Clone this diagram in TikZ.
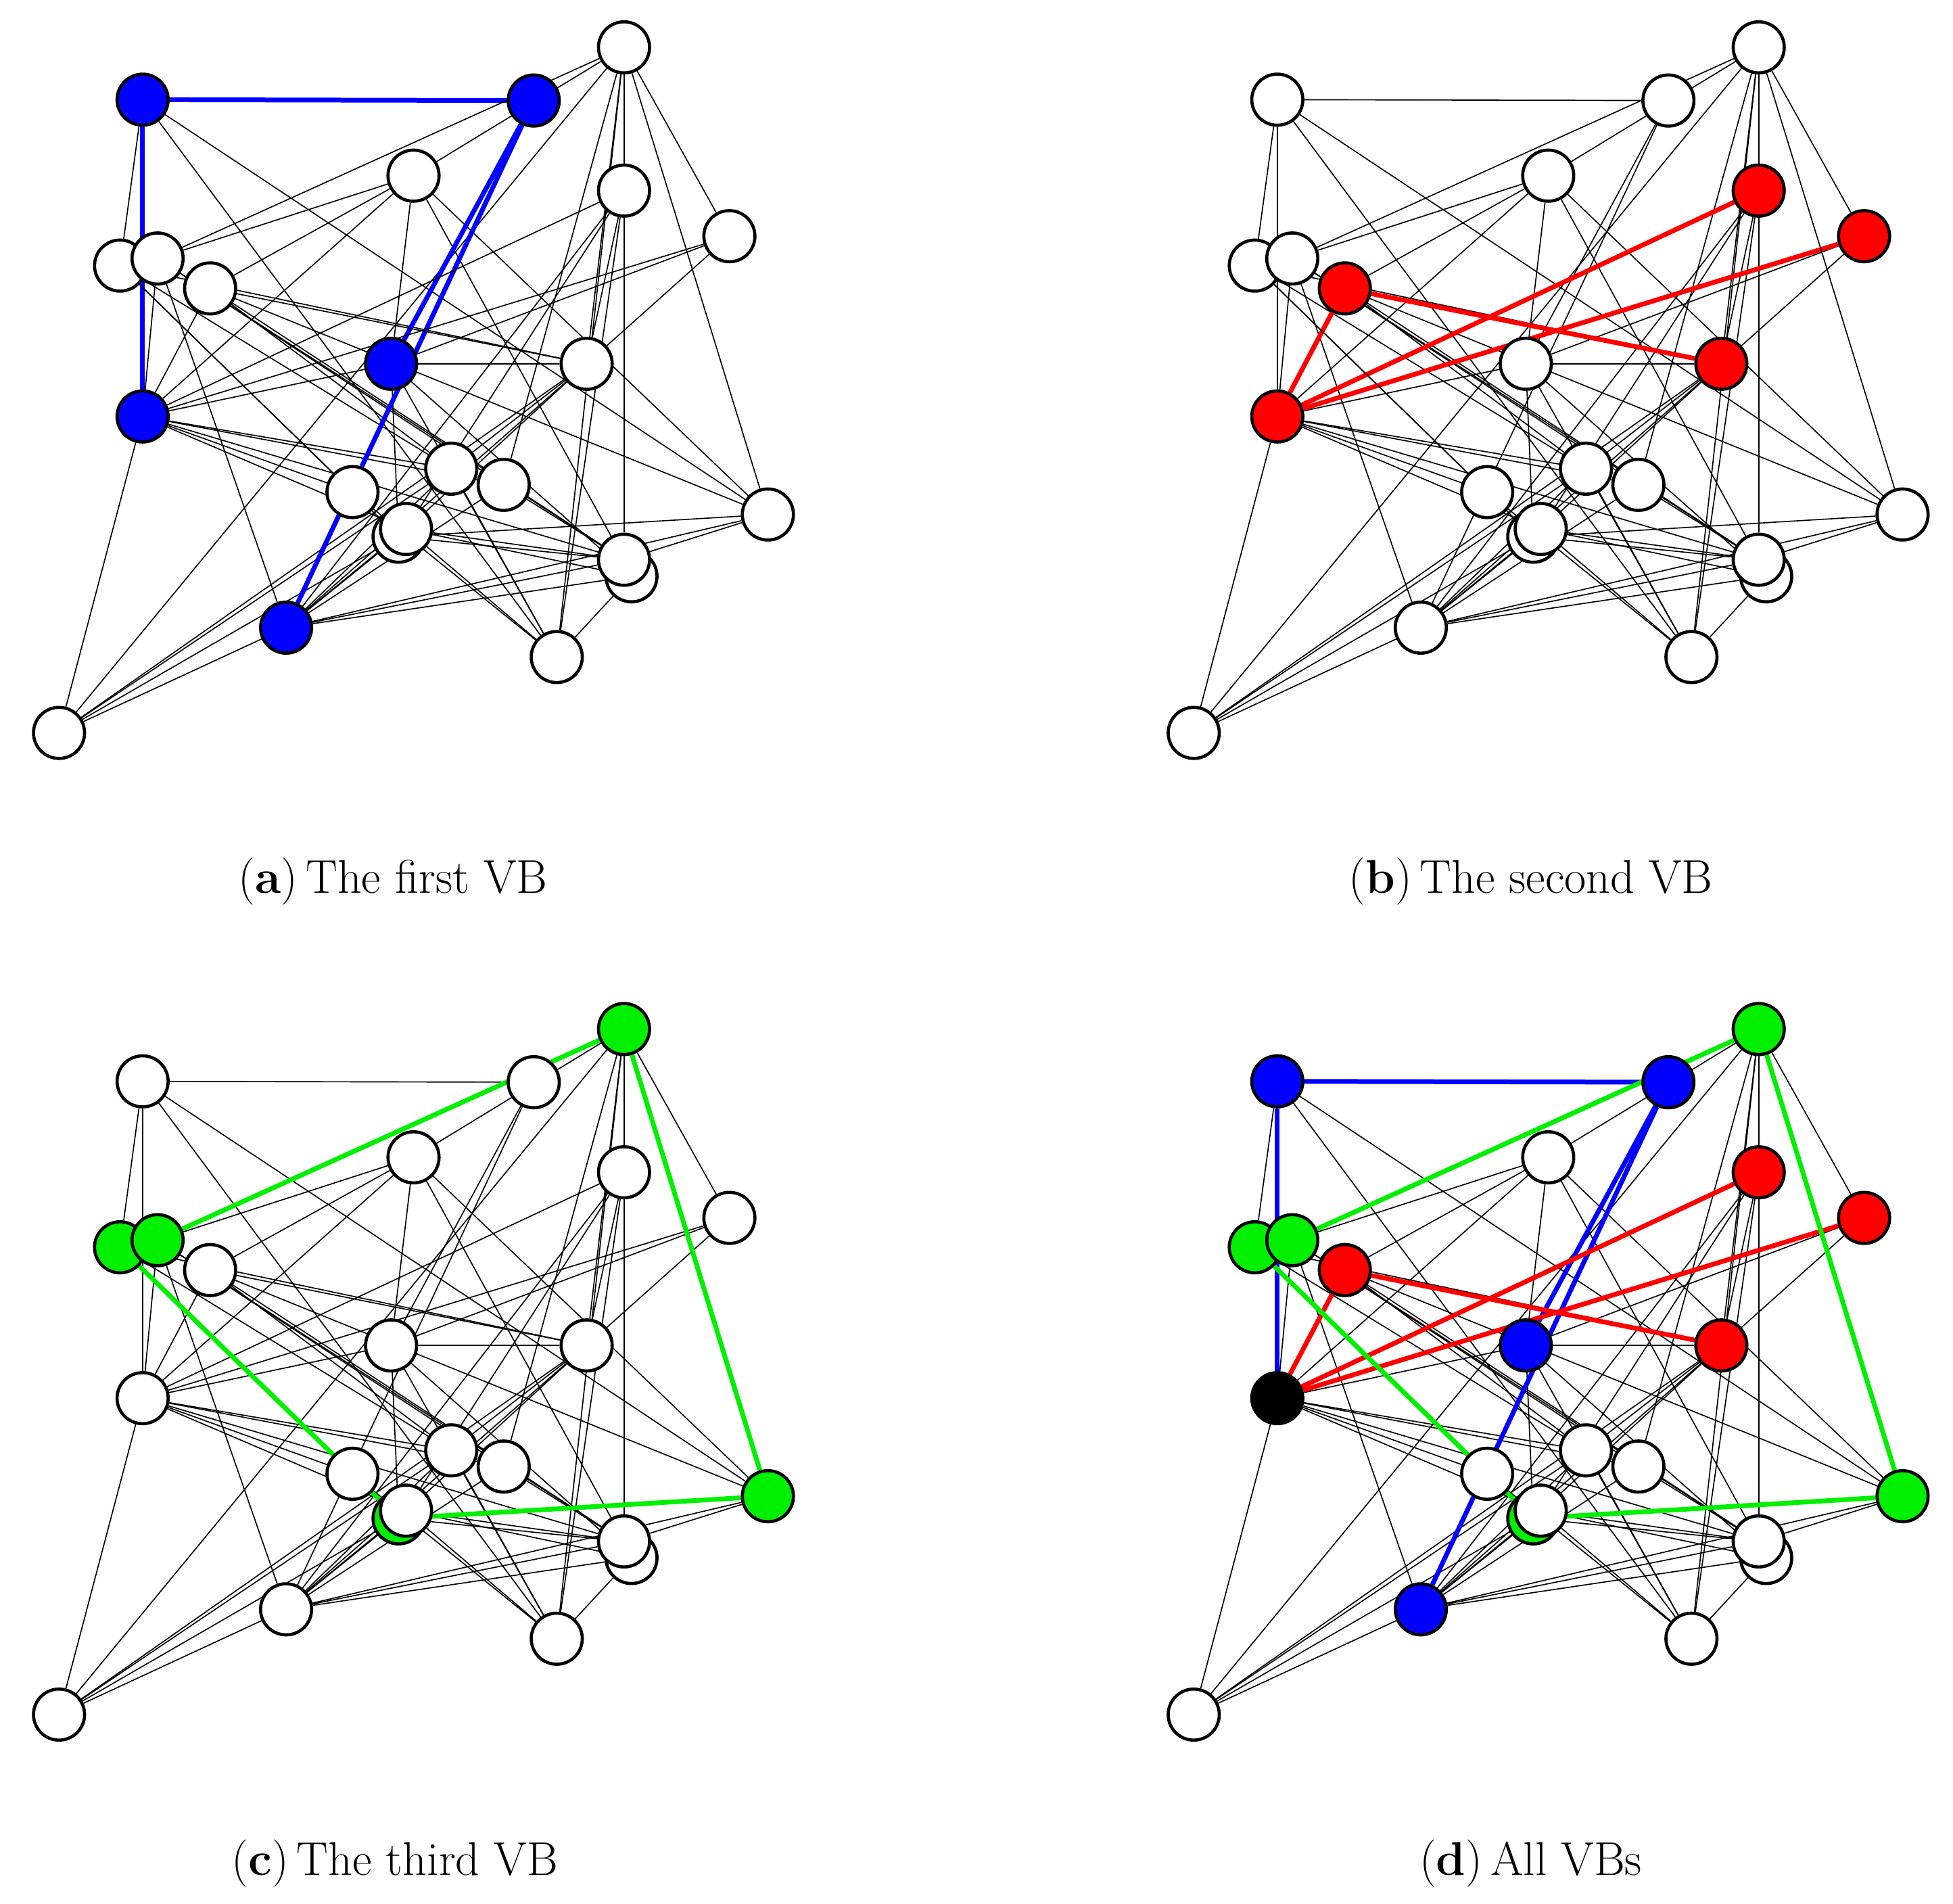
\documentclass[tikz,border=0pt]{standalone}
\usetikzlibrary{calc}
\definecolor{vblue}{RGB}{0,0,255}
\definecolor{vred}{RGB}{255,0,0}
\definecolor{vgreen}{RGB}{0,240,0}
\pgfdeclarelayer{edgesk}
\pgfdeclarelayer{edgesc}
\pgfsetlayers{edgesk,edgesc,main}
\tikzset{
 vtx/.style={circle,draw=black,line width=2.5pt,minimum size=41pt,inner sep=0pt,fill=white},
 kedge/.style={line width=0.9pt,black},
 bedge/.style={line width=3.8pt,vblue},
 redge/.style={line width=3.8pt,vred},
 gedge/.style={line width=3.8pt,vgreen},
 capt/.style={anchor=base,inner sep=0pt,font=\fontsize{38}{44}\selectfont},
}
\newcommand\drawpanel[5]{%
 \begin{scope}[shift={#2}]
  \node[vtx,fill=\fC] (#1-1) at (501,-38) {};
  \node[vtx,fill=\fA] (#1-2) at (114.5,-80) {};
  \node[vtx,fill=\fA] (#1-3) at (428.5,-80.7) {};
  \node[vtx] (#1-4) at (332,-141) {};
  \node[vtx,fill=\fB] (#1-5) at (501,-153) {};
  \node[vtx,fill=\fB] (#1-6) at (585.6,-189.6) {};
  \node[vtx,fill=\fC] (#1-7) at (96.4,-213.2) {};
  \node[vtx,fill=\fC] (#1-8) at (126.5,-207.5) {};
  \node[vtx,fill=\fB] (#1-9) at (168.7,-231.5) {};
  \node[vtx,fill=\fA] (#1-10) at (314,-292) {};
  \node[vtx,fill=\fB] (#1-11) at (471,-292) {};
  \node[vtx,fill=\fD] (#1-12) at (114.5,-334.3) {};
  \node[vtx] (#1-13) at (362.3,-376.2) {};
  \node[vtx] (#1-14) at (404.4,-389.2) {};
  \node[vtx] (#1-15) at (283,-395) {};
  \node[vtx,fill=\fC] (#1-16) at (320,-430.8) {};
  \node[vtx] (#1-17) at (326,-424.6) {};
  \node[vtx,fill=\fC] (#1-18) at (616.5,-413) {};
  \node[vtx] (#1-20) at (507,-462.6) {};
  \node[vtx] (#1-19) at (501,-449.3) {};
  \node[vtx,fill=\fA] (#1-21) at (229.7,-503.8) {};
  \node[vtx] (#1-22) at (447,-527.4) {};
  \node[vtx] (#1-23) at (47.4,-588.3) {};
 \end{scope}
 \begin{pgfonlayer}{edgesk}
  \foreach \u/\v in {1/4,1/23,1/14,1/22,1/5,1/6,1/11,
    2/7,2/22,2/18,
    4/8,4/9,4/12,4/10,4/19,4/18,
    5/22,5/11,5/19,5/17,5/21,
    6/10,6/11,
    7/15,7/11,7/13,
    8/12,8/21,8/19,8/14,
    9/18,9/19,9/13,
    10/11,10/22,10/20,10/16,10/12,
    11/23,11/21,11/16,11/13,
    12/13,12/14,12/15,12/17,12/19,12/23,
    13/23,13/22,13/21,
    14/21,14/19,
    15/22,17/22,16/19,17/19,17/20,
    18/19,18/21,
    19/21,20/21,20/22,
    21/23,21/16,21/17,23/16}
   \draw[kedge] (#1-\u) -- (#1-\v);
 \end{pgfonlayer}
 \begin{pgfonlayer}{edgesc}
  \foreach \u/\v in {2/3,2/12,3/10,3/21} \draw[#3] (#1-\u) -- (#1-\v);
  \foreach \u/\v in {9/12,9/11,5/12,6/12} \draw[#4] (#1-\u) -- (#1-\v);
  \foreach \u/\v in {8/1,1/18,18/16,7/16} \draw[#5] (#1-\u) -- (#1-\v);
 \end{pgfonlayer}
}
\begin{document}
\begin{tikzpicture}[x=1pt,y=1pt]
\useasboundingbox (0,0) rectangle (1568,-1528);
% (a)
\def\fA{vblue}\def\fB{white}\def\fC{white}\def\fD{vblue}
\drawpanel{a}{(0,0)}{bedge}{kedge}{kedge}
% (b)
\def\fA{white}\def\fB{vred}\def\fC{white}\def\fD{vred}
\drawpanel{b}{(911,0)}{kedge}{redge}{kedge}
% (c)
\def\fA{white}\def\fB{white}\def\fC{vgreen}\def\fD{white}
\drawpanel{c}{(0,-788)}{kedge}{kedge}{gedge}
% (d)
\def\fA{vblue}\def\fB{vred}\def\fC{vgreen}\def\fD{black}
\drawpanel{d}{(911,-788)}{bedge}{redge}{gedge}
\node[capt] (capa) at (315.5,-717) {(\textbf{a})\,The first VB};
\node[capt] (capb) at (1229,-717) {(\textbf{b})\,The second VB};
\node[capt] (capc) at (317,-1505) {(\textbf{c})\,The third VB};
\node[capt] (capd) at (1229,-1505) {(\textbf{d})\,All VBs};
\end{tikzpicture}
\end{document}
